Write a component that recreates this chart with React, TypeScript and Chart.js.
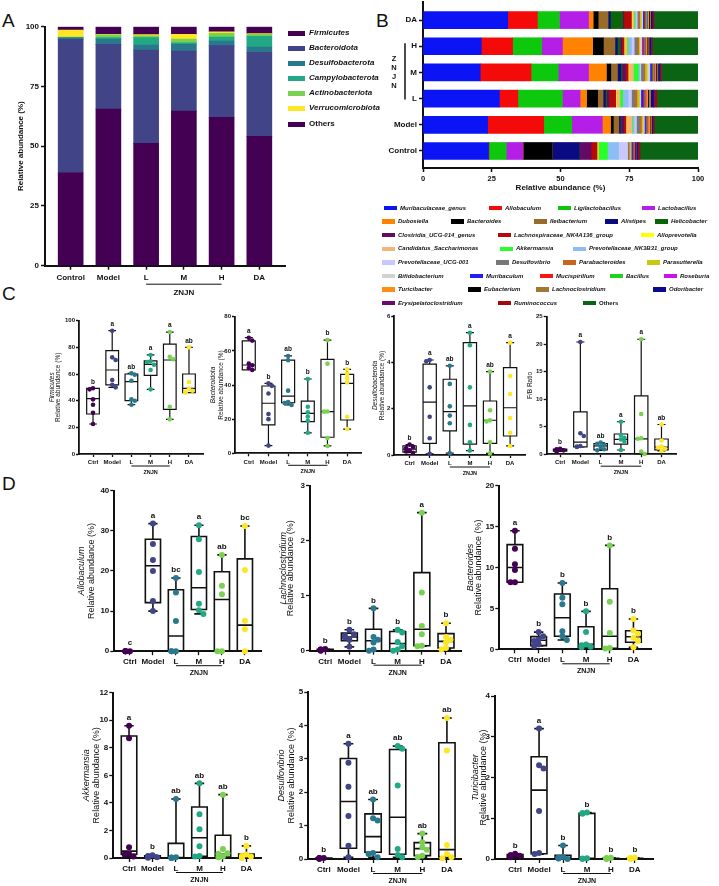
import React, { useEffect, useRef } from 'react';
import { Chart, registerables } from 'chart.js';

Chart.register(...registerables);

const FONT = '"Liberation Sans", Arial, Helvetica, sans-serif';
Chart.defaults.font.family = FONT;
Chart.defaults.color = '#111';

// ---------- Panel A: phylum-level composition ----------
const phylumGroups = ['Control', 'Model', 'L', 'M', 'H', 'DA'];
const phylumNames = ['Firmicutes', 'Bacteroidota', 'Desulfobacterota', 'Campylobacterota', 'Actinobacteriota', 'Verrucomicrobiota', 'Others'];
const phylumColors = ['#440154', '#414487', '#2a788e', '#22a884', '#7ad151', '#fde725', '#440154'];
const firmicutesA = [39.0, 65.5, 51.2, 64.7, 62.1, 54.1];
const bacteroidotaA = [55.7, 27.1, 39.0, 25.1, 30.0, 35.2];
const desulfobacterotaA = [0.6, 2.2, 2.1, 2.8, 1.9, 2.2];
const campylobacterotaA = [0.2, 0.7, 3.1, 0.7, 1.7, 4.5];
const actinobacteriotaA = [0.2, 1.1, 0.8, 1.5, 1.5, 0.8];
const verrucomicrobiotaA = [2.9, 0.2, 0.5, 2.0, 0.7, 0.3];
const othersA = [1.4, 3.2, 3.3, 3.2, 2.1, 2.9];
const phylumValues = [firmicutesA, bacteroidotaA, desulfobacterotaA, campylobacterotaA, actinobacteriotaA, verrucomicrobiotaA, othersA];

// ---------- Panel B: genus-level composition ----------
const genusRows = ['Control', 'Model', 'L', 'M', 'H', 'DA'];
const genusNames = [
  'Muribaculaceae_genus', 'Allobaculum', 'Ligilactobacillus', 'Lactobacillus', 'Dubosiella', 'Bacteroides',
  'Ileibacterium', 'Alistipes', 'Helicobacter', 'Clostridia_UCG-014_genus', 'Lachnospiraceae_NK4A136_group',
  'Alloprevotella', 'Candidatus_Saccharimonas', 'Akkermansia', 'Prevotellaceae_NK3B31_group', 'Prevotellaceae_UCG-001',
  'Desulfovibrio', 'Parabacteroides', 'Parasutterella', 'Bifidobacterium', 'Muribaculum', 'Mucispirillum', 'Bacillus',
  'Roseburia', 'Turicibacter', 'Eubacterium', 'Lachnoclostridium', 'Odoribacter', 'Erysipelatoclostridium',
  'Ruminococcus', 'Others',
];
const genusColors = [
  '#0a14f5', '#f50a0a', '#0dc80d', '#b41ee6', '#ff8200', '#000000', '#9a6a28', '#0a0a82', '#0a640a', '#640a64',
  '#b40a0a', '#ffff00', '#f5b478', '#28ff28', '#8cbef5', '#c8c8ff', '#787878', '#c8641e', '#c8c814', '#d2d2d2',
  '#1e1eff', '#ff1414', '#1ed21e', '#c814e6', '#ff8c14', '#000000', '#a07832', '#0a0a8c', '#6e0a6e', '#a00a0a',
  '#0a6414',
];
const controlB = [23.8, 0.2, 6.3, 6.0, 0.1, 10.6, 0.1, 9.7, 0.1, 4.2, 2.2, 0.3, 0.2, 3.3, 4.0, 3.3, 0.3, 0.3, 0.5, 0.2, 0.5, 0.3, 0.1, 0.2, 0.1, 0.3, 0.3, 0.5, 0.3, 0.6, 21.1];
const modelB = [23.5, 20.4, 10.2, 11.1, 3.0, 1.0, 2.0, 0.5, 0.3, 1.0, 0.8, 0.2, 2.0, 0.3, 0.5, 0.8, 1.2, 0.6, 0.6, 0.5, 0.4, 0.3, 0.3, 0.3, 0.8, 0.2, 0.3, 0.3, 0.3, 0.4, 15.9];
const lowB = [27.8, 6.7, 16.2, 6.4, 2.4, 4.0, 2.0, 0.8, 0.5, 0.8, 2.5, 0.3, 1.2, 1.0, 2.0, 1.2, 1.2, 0.8, 0.9, 0.5, 0.8, 0.5, 0.3, 0.3, 0.6, 0.3, 0.8, 1.0, 0.4, 0.8, 15.0];
const midB = [20.8, 18.5, 9.9, 11.0, 6.5, 1.6, 2.4, 1.2, 0.5, 1.2, 1.0, 0.3, 1.6, 1.8, 0.5, 0.4, 1.0, 0.5, 0.8, 1.0, 0.6, 0.4, 0.5, 0.3, 0.4, 0.3, 0.4, 0.6, 0.3, 0.4, 13.3];
const highB = [21.2, 11.4, 10.6, 7.5, 11.0, 3.9, 4.2, 0.9, 1.0, 0.6, 0.8, 0.3, 0.8, 0.4, 1.2, 1.0, 1.0, 0.6, 0.4, 0.8, 0.3, 0.5, 0.3, 0.3, 0.5, 0.3, 0.4, 0.6, 0.3, 0.3, 16.6];
const daB = [30.8, 10.8, 8.0, 10.6, 1.7, 1.8, 3.6, 0.8, 4.5, 0.4, 2.8, 0.3, 0.6, 0.3, 0.4, 0.5, 0.5, 0.4, 0.6, 0.5, 0.5, 0.4, 0.6, 0.3, 0.4, 0.3, 0.4, 0.5, 0.3, 0.4, 16.0];
const genusValues = [controlB, modelB, lowB, midB, highB, daB];

// legend rows for panel B: [genus index, swatch left]
const genusLegendRows = [
  [[0, 384], [1, 489], [2, 558], [3, 642]],
  [[4, 382], [5, 451], [6, 534], [7, 605], [8, 655]],
  [[9, 382], [10, 498], [11, 641]],
  [[12, 382], [13, 500], [14, 573]],
  [[15, 382], [16, 496], [17, 563], [18, 647]],
  [[19, 382], [20, 470], [21, 540], [22, 610], [23, 664]],
  [[24, 382], [25, 468], [26, 536], [27, 653]],
  [[28, 382], [29, 498], [30, 583]],
];

// ---------- Panels C & D: per-group box plots ----------
const boxGroups = ['Ctrl', 'Model', 'L', 'M', 'H', 'DA'];
const groupColors = ['#440154', '#414487', '#2a788e', '#22a884', '#7ad151', '#fde725'];

// Firmicutes (%)
const firmicutesPts = [[49.3, 48.5, 41, 37, 31, 22.5], [92.5, 72.5, 70.5, 55.5, 52, 50], [60.5, 59.5, 55, 41, 40, 37], [74.3, 69.5, 69, 67, 63, 48.5], [91.5, 73, 71, 35.5, 26], [80, 54, 49, 47.5, 46.5, 46]];
const firmicutesBox = [[30, 41.5, 49.3], [51.8, 63, 77.5], [40, 54.3, 60], [59, 67.3, 69.8], [33.5, 70.5, 82.5], [46, 49.3, 60]];
const firmicutesSig = ['b', 'a', 'ab', 'a', 'a', 'ab'];
// Bacteroidota (%)
const bacteroidotaPts = [[67.7, 66, 52.5, 51.5, 50, 48.8], [41, 39.5, 35, 23, 20, 4.5], [57, 54.5, 36.7, 30, 29.5, 28.3], [43.5, 27.3, 24, 21.5, 19, 12], [66.3, 52.5, 24.5, 24.4, 9, 4.3], [49.2, 46.5, 44, 41.5, 21.4, 14.2]];
const bacteroidotaBox = [[48.8, 51.7, 65.9], [16.6, 29.3, 39.4], [29.6, 33.5, 54.6], [18.5, 23.4, 30.6], [9.4, 24.4, 55], [19.5, 41, 46.2]];
const bacteroidotaSig = ['a', 'b', 'ab', 'b', 'b', 'b'];
// Desulfobacterota (%)
const desulfobacterotaPts = [[0.45, 0.35, 0.3, 0.2, 0.15, 0.1], [4.1, 4.05, 2.92, 1.65, 0.72, 0.05], [3.85, 3.07, 2.1, 1.7, 1.37, 0.08], [5.28, 4.74, 2.92, 1.3, 0.55, 0.19], [3.6, 1.93, 1.5, 1.45, 0.55, 0.07], [4.85, 3.41, 2.63, 1.6, 0.96, 0.39]];
const desulfobacterotaBox = [[0.12, 0.25, 0.4], [0.5, 2.28, 3.92], [1.04, 1.87, 3.27], [0.47, 2.12, 4.85], [0.5, 1.5, 2.33], [0.82, 2.04, 3.77]];
const desulfobacterotaSig = ['b', 'a', 'ab', 'a', 'ab', 'a'];
// Firmicutes / Bacteroidota ratio
const fbRatioPts = [[1.0, 0.9, 0.8, 0.7, 0.6, 0.5], [20.4, 3.8, 3.3, 1.5, 1.4, 1.3], [2.1, 1.9, 1.7, 1.3, 0.9, 0.7], [5.9, 3.5, 3.0, 2.7, 2.3, 0.76], [20.9, 7.3, 2.9, 2.8, 0.5, 0.05], [5.4, 2.5, 1.4, 1.2, 1.0, 0.6]];
const fbRatioBox = [[0.55, 0.75, 0.95], [1.35, 2.2, 7.7], [0.8, 1.5, 1.95], [1.85, 2.7, 3.67], [0.1, 2.8, 10.6], [0.8, 1.3, 2.76]];
const fbRatioSig = ['b', 'a', 'ab', 'a', 'a', 'ab'];
// Allobaculum (%)
const allobaculumPts = [[0, 0, 0, 0, 0, 0], [31.8, 26.7, 22.7, 20, 12.5, 10], [18.25, 14.6, 7.5, 0, 0, 0], [31.4, 27.9, 19.75, 11.8, 10.2, 9.3], [24, 16.3, 14.2, 0, 0], [31.2, 20.25, 7.6, 5.5, 0]];
const allobaculumBox = [[0, 0, 0], [12.1, 21.3, 27.9], [0, 3.8, 15.3], [10.4, 15.8, 28.6], [0, 12.9, 19.8], [0, 6.5, 23]];
const allobaculumSig = ['c', 'a', 'bc', 'a', 'ab', 'bc'];
// Lachnoclostridium (%)
const lachnoPts = [[0.03, 0.02, 0.02, 0.01, 0.01, 0.0], [0.38, 0.3, 0.27, 0.24, 0.2, 0.07], [0.77, 0.25, 0.2, 0.15, 0.02, 0.0], [0.38, 0.33, 0.16, 0.08, 0.02, 0.0], [2.51, 1.06, 0.45, 0.3, 0.09, 0.08], [0.5, 0.25, 0.2, 0.15, 0.05, 0.02]];
const lachnoBox = [[0.005, 0.015, 0.025], [0.18, 0.25, 0.32], [0.0, 0.18, 0.39], [0.0, 0.13, 0.35], [0.09, 0.39, 1.42], [0.05, 0.17, 0.31]];
const lachnoSig = ['b', 'b', 'b', 'b', 'a', 'b'];
// Bacteroides (%)
const bacteroidesPts = [[14.5, 12.3, 10.4, 9.7, 8.2, 8.2], [2.1, 1.6, 1.2, 1.0, 0.6, 0.4], [8.1, 6.3, 5.5, 2.2, 1.6, 1.14], [4.64, 2.1, 0.6, 0.5, 0.3, 0.24], [12.7, 5.8, 2.0, 0.15, 0.1], [3.7, 2.3, 1.9, 1.4, 1.0, 0.24]];
const bacteroidesBox = [[8.2, 10.0, 12.8], [0.45, 1.1, 1.55], [1.6, 3.86, 6.76], [0.25, 0.6, 2.76], [0.12, 1.6, 7.4], [0.86, 1.54, 2.27]];
const bacteroidesSig = ['a', 'b', 'b', 'b', 'b', 'b'];
// Akkermansia (%)
const akkermansiaPts = [[9.6, 8.7, 0.78, 0.3, 0.25, 0.1], [0.2, 0.15, 0.1, 0.08, 0.05, 0.02], [4.28, 0.05, 0.03, 0.02, 0.01, 0.0], [5.42, 3.17, 2.08, 0.85, 0.15, 0.1], [4.6, 0.65, 0.35, 0.3, 0.1, 0.05], [0.88, 0.25, 0.15, 0.1, 0.05, 0.0]];
const akkermansiaBox = [[0.27, 0.5, 8.86], [0.04, 0.09, 0.16], [0.0, 0.03, 1.06], [0.12, 1.47, 3.7], [0.07, 0.27, 1.65], [0.03, 0.1, 0.29]];
const akkermansiaSig = ['a', 'b', 'ab', 'ab', 'ab', 'b'];
// Desulfovibrio (%)
const desulfovibrioPts = [[0.03, 0.03, 0.02, 0.02, 0.01, 0.01], [3.45, 2.88, 2.16, 1.29, 0.4, 0.05], [1.78, 1.22, 1.15, 0.18, 0.15, 0.05], [3.38, 3.3, 2.2, 0.3, 0.12, 0.05], [0.76, 0.5, 0.35, 0.28, 0.1, 0.05], [4.22, 3.25, 0.42, 0.15, 0.05, 0.02]];
const desulfovibrioBox = [[0.01, 0.02, 0.03], [0.32, 1.72, 3.01], [0.2, 0.67, 1.35], [0.14, 1.25, 3.28], [0.1, 0.31, 0.49], [0.06, 0.28, 3.48]];
const desulfovibrioSig = ['b', 'a', 'ab', 'ab', 'ab', 'ab'];
// Turicibacter (%)
const turicibacterPts = [[0.13, 0.1, 0.08, 0.07, 0.05, 0.04], [3.2, 2.3, 2.22, 1.18, 0.15, 0.12], [0.33, 0.05, 0.03, 0.02, 0.01, 0.0], [1.14, 1.13, 1.11, 0.02, 0.01, 0.0], [0.03, 0.02, 0.02, 0.01, 0.01, 0.0], [0.03, 0.02, 0.02, 0.01, 0.01, 0.0]];
const turicibacterBox = [[0.045, 0.075, 0.11], [0.13, 1.69, 2.51], [0.0, 0.025, 0.09], [0.0, 0.02, 1.12], [0.005, 0.015, 0.02], [0.005, 0.015, 0.02]];
const turicibacterSig = ['b', 'a', 'b', 'b', 'b', 'b'];

// ---------- layout helpers ----------
type Area = { l: number; t: number; r: number; b: number };
type Margin = { left: number; top: number; right: number; bottom: number };
type Frame = { x: number; y: number; w: number; h: number; pad: any; yw: number; xh: number };

function frameFor(area: Area, m: Margin): Frame {
  const x = Math.floor(area.l - m.left);
  const y = Math.floor(area.t - m.top);
  const w = Math.ceil(area.r + m.right) - x;
  const h = Math.ceil(area.b + m.bottom) - y;
  return {
    x, y, w, h,
    pad: { left: 0, top: area.t - y, right: x + w - area.r, bottom: 0 },
    yw: area.l - x,
    xh: y + h - area.b,
  };
}

const axisGrid = (len: number, w: number) => ({
  display: true, drawOnChartArea: false, drawTicks: true, tickLength: len, tickWidth: w, tickColor: '#111', color: '#111', offset: false,
});
const axisBorder = (w: number) => ({ display: true, color: '#111', width: w });

function ChartCanvas({ frame, build }: { frame: Frame; build: () => any }) {
  const ref = useRef<HTMLCanvasElement | null>(null);
  useEffect(() => {
    if (!ref.current) return;
    const chart = new Chart(ref.current, build());
    return () => chart.destroy();
  }, []);
  return (
    <canvas
      ref={ref}
      width={frame.w}
      height={frame.h}
      style={{ position: 'absolute', left: frame.x, top: frame.y, width: frame.w, height: frame.h }}
    />
  );
}

// ---------- Panel A chart ----------
const areaA: Area = { l: 45, t: 26.7, r: 285, b: 265.7 };
const frameA = frameFor(areaA, { left: 45, top: 14, right: 6, bottom: 32 });

function buildA() {
  const f = frameA;
  return {
    type: 'bar',
    data: {
      datasets: phylumNames.map((name, k) => ({
        label: name,
        data: phylumGroups.map((_, gi) => ({ x: gi, y: phylumValues[k][gi] })),
        backgroundColor: phylumColors[k],
        borderWidth: 0,
        barThickness: 25,
      })),
    },
    options: {
      animation: false, responsive: false, devicePixelRatio: 1, events: [],
      layout: { padding: f.pad },
      plugins: { legend: { display: false }, tooltip: { enabled: false } },
      scales: {
        x: {
          type: 'linear', stacked: true, offset: false, min: -0.68, max: 5.68,
          afterBuildTicks: (s: any) => { s.ticks = phylumGroups.map((_, i) => ({ value: i })); },
          afterFit: (s: any) => { s.height = f.xh; },
          ticks: { autoSkip: false, maxRotation: 0, padding: 3, font: { size: 8, weight: 'bold' }, color: '#111', callback: (v: number) => phylumGroups[v] ?? '' },
          grid: axisGrid(4, 1.5), border: axisBorder(2),
        },
        y: {
          type: 'linear', stacked: true, min: 0, max: 100,
          afterFit: (s: any) => { s.width = f.yw; },
          ticks: { stepSize: 25, padding: 2, font: { size: 8, weight: 'bold' }, color: '#111' },
          grid: axisGrid(4, 1.5), border: axisBorder(2),
        },
      },
    },
    plugins: [{
      id: 'decorA',
      afterDraw(chart: any) {
        const { ctx, chartArea: a, scales: { x } } = chart;
        ctx.save();
        ctx.fillStyle = '#111'; ctx.strokeStyle = '#111';
        ctx.textAlign = 'center'; ctx.textBaseline = 'middle';
        ctx.save();
        ctx.translate(a.left - 24, (a.top + a.bottom) / 2);
        ctx.rotate(-Math.PI / 2);
        ctx.font = `bold 8px ${FONT}`;
        ctx.fillText('Relative abundance (%)', 0, 0);
        ctx.restore();
        const x1 = x.getPixelForValue(2), x2 = x.getPixelForValue(4);
        ctx.lineWidth = 1;
        ctx.beginPath(); ctx.moveTo(x1, a.bottom + 18.5); ctx.lineTo(x2, a.bottom + 18.5); ctx.stroke();
        ctx.font = `bold 8px ${FONT}`;
        ctx.fillText('ZNJN', (x1 + x2) / 2, a.bottom + 27.5);
        ctx.restore();
      },
    }],
  };
}

// ---------- Panel B chart ----------
const areaB: Area = { l: 423, t: 2, r: 698, b: 168 };
const frameB = frameFor(areaB, { left: 45, top: 8, right: 14, bottom: 28 });

function buildB() {
  const f = frameB;
  return {
    type: 'bar',
    data: {
      datasets: genusNames.map((name, k) => ({
        label: name,
        data: genusRows.map((_, gi) => ({ y: gi, x: genusValues[gi][k] })),
        backgroundColor: genusColors[k],
        borderWidth: 0,
        barThickness: 17,
      })),
    },
    options: {
      indexAxis: 'y',
      animation: false, responsive: false, devicePixelRatio: 1, events: [],
      layout: { padding: f.pad },
      plugins: { legend: { display: false }, tooltip: { enabled: false } },
      scales: {
        x: {
          type: 'linear', stacked: true, min: 0, max: 100,
          afterFit: (s: any) => { s.height = f.xh; },
          ticks: { stepSize: 25, padding: 2, maxRotation: 0, font: { size: 7.5, weight: 'bold' }, color: '#111' },
          grid: axisGrid(4, 1.5), border: axisBorder(2),
        },
        y: {
          type: 'linear', stacked: true, offset: false, min: -0.65, max: 5.69,
          afterBuildTicks: (s: any) => { s.ticks = genusRows.map((_, i) => ({ value: i })); },
          afterFit: (s: any) => { s.width = f.yw; },
          ticks: { autoSkip: false, padding: 2, font: { size: 8, weight: 'bold' }, color: '#111', callback: (v: number) => genusRows[v] ?? '' },
          grid: axisGrid(4, 1.5), border: axisBorder(2),
        },
      },
    },
    plugins: [{
      id: 'decorB',
      afterDraw(chart: any) {
        const { ctx, chartArea: a, scales: { y } } = chart;
        ctx.save();
        ctx.fillStyle = '#111'; ctx.strokeStyle = '#111';
        ctx.textAlign = 'center'; ctx.textBaseline = 'middle';
        ctx.font = `bold 8px ${FONT}`;
        ctx.fillText('Relative abundance (%)', (a.left + a.right) / 2, a.bottom + 20);
        const yTop = y.getPixelForValue(4), yBot = y.getPixelForValue(2);
        ctx.lineWidth = 1.5;
        ctx.beginPath(); ctx.moveTo(a.left - 18, yTop - 3); ctx.lineTo(a.left - 18, yBot + 1); ctx.stroke();
        ctx.font = `bold 7.5px ${FONT}`;
        const mid = (yTop + yBot) / 2;
        ['Z', 'N', 'J', 'N'].forEach((ch, i) => ctx.fillText(ch, a.left - 29, mid - 13.5 + i * 9));
        ctx.restore();
      },
    }],
  };
}

// ---------- box plot charts ----------
type Style = { tick: number; title: number; sig: number; znjn: number; radius: number; line: number; axis: number; tickLen: number; bracketDy: number; textDy: number; boxHalf: number; capHalf: number };
const styleC: Style = { tick: 6, title: 6.5, sig: 6.5, znjn: 5.5, radius: 2.3, line: 1.2, axis: 1.8, tickLen: 3, bracketDy: 12, textDy: 18, boxHalf: 0.33, capHalf: 0.2 };
const styleD: Style = { tick: 8, title: 9, sig: 8, znjn: 7, radius: 3, line: 1.6, axis: 2, tickLen: 4, bracketDy: 14.5, textDy: 22, boxHalf: 0.33, capHalf: 0.2 };

type BoxPanel = {
  key: string; area: Area; xMin: number; xMax: number; yMax: number; yStep: number;
  italic: string | null; plain: string; titleDx: number[];
  points: number[][]; boxes: number[][]; sig: string[]; st: Style;
};

const boxPanels: BoxPanel[] = [
  { key: 'c1', area: { l: 79, t: 320.7, r: 203, b: 454 }, xMin: -0.73, xMax: 5.73, yMax: 100, yStep: 20, italic: 'Firmicutes', plain: 'Relative abundance (%)', titleDx: [-27, -20.5], points: firmicutesPts, boxes: firmicutesBox, sig: firmicutesSig, st: styleC },
  { key: 'c2', area: { l: 235, t: 316.7, r: 361.7, b: 453.3 }, xMin: -0.7, xMax: 5.74, yMax: 80, yStep: 20, italic: 'Bacteroidota', plain: 'Relative abundance (%)', titleDx: [-21.7, -14], points: bacteroidotaPts, boxes: bacteroidotaBox, sig: bacteroidotaSig, st: styleC },
  { key: 'c3', area: { l: 394.3, t: 316, r: 525, b: 455 }, xMin: -0.76, xMax: 5.74, yMax: 6, yStep: 2, italic: 'Desulfobacterota', plain: 'Relative abundance (%)', titleDx: [-19.5, -12.5], points: desulfobacterotaPts, boxes: desulfobacterotaBox, sig: desulfobacterotaSig, st: styleC },
  { key: 'c4', area: { l: 546.7, t: 316.7, r: 676.7, b: 454.2 }, xMin: -0.66, xMax: 5.75, yMax: 25, yStep: 5, italic: null, plain: 'F/B Ratio', titleDx: [-16.5], points: fbRatioPts, boxes: fbRatioBox, sig: fbRatioSig, st: styleC },
  { key: 'd1', area: { l: 114.3, t: 490.7, r: 261.7, b: 651.2 }, xMin: -0.68, xMax: 5.73, yMax: 40, yStep: 10, italic: 'Allobaculum', plain: 'Relative abundance (%)', titleDx: [-32.6, -22.6], points: allobaculumPts, boxes: allobaculumBox, sig: allobaculumSig, st: styleD },
  { key: 'd2', area: { l: 310, t: 485.7, r: 461.7, b: 650.7 }, xMin: -0.63, xMax: 5.65, yMax: 3, yStep: 1, italic: 'Lachnoclostridium', plain: 'Relative abundance (%)', titleDx: [-27, -19], points: lachnoPts, boxes: lachnoBox, sig: lachnoSig, st: styleD },
  { key: 'd3', area: { l: 499.3, t: 485.7, r: 651.7, b: 649.3 }, xMin: -0.66, xMax: 5.77, yMax: 20, yStep: 5, italic: 'Bacteroides', plain: 'Relative abundance (%)', titleDx: [-29, -21], points: bacteroidesPts, boxes: bacteroidesBox, sig: bacteroidesSig, st: styleD },
  { key: 'd4', area: { l: 113.3, t: 692.7, r: 261.7, b: 858 }, xMin: -0.67, xMax: 5.65, yMax: 12, yStep: 2, italic: 'Akkermansia', plain: 'Relative abundance (%)', titleDx: [-27, -17], points: akkermansiaPts, boxes: akkermansiaBox, sig: akkermansiaSig, st: styleD },
  { key: 'd5', area: { l: 308.3, t: 692, r: 461.7, b: 859 }, xMin: -0.63, xMax: 5.6, yMax: 5, yStep: 1, italic: 'Desulfovibrio', plain: 'Relative abundance (%)', titleDx: [-26.7, -16.7], points: desulfovibrioPts, boxes: desulfovibrioBox, sig: desulfovibrioSig, st: styleD },
  { key: 'd6', area: { l: 495, t: 696, r: 653.3, b: 859 }, xMin: -0.84, xMax: 5.77, yMax: 4, yStep: 1, italic: 'Turicibacter', plain: 'Relative abundance (%)', titleDx: [-20, -11.7], points: turicibacterPts, boxes: turicibacterBox, sig: turicibacterSig, st: styleD },
];

// spreads overlapping dots sideways so each stays visible (beeswarm style)
function swarm(vals: number[], gi: number, pxX: number, pxY: number, r: number, half: number) {
  const placed: { dx: number; py: number }[] = [];
  const step = r * 1.5;
  const limit = half * pxX;
  return vals.map((v) => {
    const py = v * pxY;
    let dx = 0;
    for (let k = 0; k < 11; k++) {
      const c = k === 0 ? 0 : (k % 2 === 1 ? 1 : -1) * Math.ceil(k / 2) * step;
      if (Math.abs(c) > limit) break;
      dx = c;
      if (placed.every((p) => Math.hypot(p.dx - c, p.py - py) >= r * 1.6)) break;
    }
    placed.push({ dx, py });
    return { x: gi + dx / pxX, y: v };
  });
}

function buildBox(p: BoxPanel, f: Frame) {
  const st = p.st;
  const pxX = (p.area.r - p.area.l) / (p.xMax - p.xMin);
  const pxY = (p.area.b - p.area.t) / p.yMax;
  return {
    type: 'scatter',
    data: {
      datasets: p.points.map((vals, gi) => ({
        label: boxGroups[gi],
        data: swarm(vals, gi, pxX, pxY, st.radius, st.boxHalf),
        pointRadius: st.radius,
        pointHoverRadius: st.radius,
        pointBackgroundColor: groupColors[gi],
        pointBorderColor: groupColors[gi],
        pointBorderWidth: 0,
        clip: false,
      })),
    },
    options: {
      animation: false, responsive: false, devicePixelRatio: 1, events: [],
      layout: { padding: f.pad },
      plugins: { legend: { display: false }, tooltip: { enabled: false } },
      scales: {
        x: {
          type: 'linear', offset: false, min: p.xMin, max: p.xMax,
          afterBuildTicks: (s: any) => { s.ticks = boxGroups.map((_, i) => ({ value: i })); },
          afterFit: (s: any) => { s.height = f.xh; },
          ticks: { autoSkip: false, maxRotation: 0, padding: 2, font: { size: st.tick, weight: 'bold' }, color: '#111', callback: (v: number) => boxGroups[v] ?? '' },
          grid: axisGrid(st.tickLen, 1.3), border: axisBorder(st.axis),
        },
        y: {
          type: 'linear', min: 0, max: p.yMax,
          afterFit: (s: any) => { s.width = f.yw; },
          ticks: { stepSize: p.yStep, padding: 1, font: { size: st.tick, weight: 'bold' }, color: '#111' },
          grid: axisGrid(st.tickLen, 1.3), border: axisBorder(st.axis),
        },
      },
    },
    plugins: [{
      id: 'boxes',
      beforeDatasetsDraw(chart: any) {
        const { ctx, scales: { x, y } } = chart;
        ctx.save();
        ctx.strokeStyle = '#111';
        ctx.lineWidth = st.line;
        p.boxes.forEach(([q1, med, q3], gi) => {
          const vals = p.points[gi];
          const lo = Math.min(...vals);
          const hi = Math.max(...vals);
          const cx = x.getPixelForValue(gi);
          const hw = x.getPixelForValue(gi + st.boxHalf) - cx;
          const cw = x.getPixelForValue(gi + st.capHalf) - cx;
          const y1 = y.getPixelForValue(q1);
          const ym = y.getPixelForValue(med);
          const y3 = y.getPixelForValue(q3);
          const yl = y.getPixelForValue(lo);
          const yh = y.getPixelForValue(hi);
          ctx.beginPath();
          ctx.rect(cx - hw, y3, hw * 2, y1 - y3);
          ctx.moveTo(cx - hw, ym); ctx.lineTo(cx + hw, ym);
          ctx.moveTo(cx, y3); ctx.lineTo(cx, yh);
          ctx.moveTo(cx - cw, yh); ctx.lineTo(cx + cw, yh);
          ctx.moveTo(cx, y1); ctx.lineTo(cx, yl);
          ctx.moveTo(cx - cw, yl); ctx.lineTo(cx + cw, yl);
          ctx.stroke();
        });
        ctx.restore();
      },
      afterDraw(chart: any) {
        const { ctx, chartArea: a, scales: { x, y } } = chart;
        ctx.save();
        ctx.fillStyle = '#111'; ctx.strokeStyle = '#111';
        ctx.textAlign = 'center';
        // significance letters
        ctx.textBaseline = 'bottom';
        ctx.font = `bold ${st.sig}px ${FONT}`;
        p.sig.forEach((s, gi) => {
          const hi = Math.max(...p.points[gi]);
          ctx.fillText(s, x.getPixelForValue(gi), y.getPixelForValue(hi) - st.radius - 1);
        });
        // axis title
        ctx.textBaseline = 'middle';
        const lines: [string, string][] = p.italic ? [[p.italic, 'italic'], [p.plain, 'normal']] : [[p.plain, 'normal']];
        lines.forEach(([txt, style], i) => {
          ctx.save();
          ctx.translate(a.left + p.titleDx[i], (a.top + a.bottom) / 2);
          ctx.rotate(-Math.PI / 2);
          ctx.font = `${style} ${st.title}px ${FONT}`;
          ctx.fillText(txt, 0, 0);
          ctx.restore();
        });
        // treatment bracket
        const x1 = x.getPixelForValue(2), x2 = x.getPixelForValue(4);
        ctx.lineWidth = 1;
        ctx.beginPath(); ctx.moveTo(x1, a.bottom + st.bracketDy); ctx.lineTo(x2, a.bottom + st.bracketDy); ctx.stroke();
        ctx.font = `bold ${st.znjn}px ${FONT}`;
        ctx.fillText('ZNJN', (x1 + x2) / 2, a.bottom + st.textDy);
        ctx.restore();
      },
    }],
  };
}

// ---------- HTML legends and panel letters ----------
const legendARows = [33, 48, 63, 78, 93, 108, 124];
const legendBRowTop = 208;
const legendBRowGap = 13.6;

function PanelLetter({ ch, x, y }: { ch: string; x: number; y: number }) {
  return (
    <div style={{ position: 'absolute', left: x, top: y, fontFamily: FONT, fontSize: 19, lineHeight: '19px', color: '#111' }}>{ch}</div>
  );
}

function LegendA() {
  return (
    <>
      {phylumNames.map((name, k) => (
        <React.Fragment key={name}>
          <div style={{ position: 'absolute', left: 288, top: legendARows[k] - 2.5, width: 17, height: 5, background: phylumColors[k] }} />
          <div style={{ position: 'absolute', left: 309, top: legendARows[k] - 5, height: 10, lineHeight: '10px', fontFamily: FONT, fontSize: 8, fontWeight: 'bold', fontStyle: name === 'Others' ? 'normal' : 'italic', color: '#111', whiteSpace: 'nowrap' }}>{name}</div>
        </React.Fragment>
      ))}
    </>
  );
}

function LegendB() {
  return (
    <>
      {genusLegendRows.map((row, ri) => row.map(([gi, left]) => {
        const cy = legendBRowTop + ri * legendBRowGap;
        const name = genusNames[gi];
        return (
          <React.Fragment key={name}>
            <div style={{ position: 'absolute', left, top: cy - 2.3, width: 13, height: 4.6, background: genusColors[gi] }} />
            <div style={{ position: 'absolute', left: left + 16, top: cy - 4.5, height: 9, lineHeight: '9px', fontFamily: FONT, fontSize: 6, fontWeight: 'bold', fontStyle: name === 'Others' ? 'normal' : 'italic', color: '#111', whiteSpace: 'nowrap' }}>{name}</div>
          </React.Fragment>
        );
      }))}
    </>
  );
}

export default function App() {
  return (
    <div style={{ position: 'absolute', left: 0, top: 0, width: 719, height: 886, background: '#fff', overflow: 'hidden' }}>
      <PanelLetter ch="A" x={2} y={10.8} />
      <PanelLetter ch="B" x={376} y={10.8} />
      <PanelLetter ch="C" x={2} y={284.2} />
      <PanelLetter ch="D" x={2} y={474.2} />
      <ChartCanvas frame={frameA} build={buildA} />
      <LegendA />
      <ChartCanvas frame={frameB} build={buildB} />
      <LegendB />
      {boxPanels.map((p) => {
        const f = frameFor(p.area, p.st === styleC ? { left: 42, top: 14, right: 6, bottom: 26 } : { left: 46, top: 14, right: 6, bottom: 27 });
        return <ChartCanvas key={p.key} frame={f} build={() => buildBox(p, f)} />;
      })}
    </div>
  );
}
